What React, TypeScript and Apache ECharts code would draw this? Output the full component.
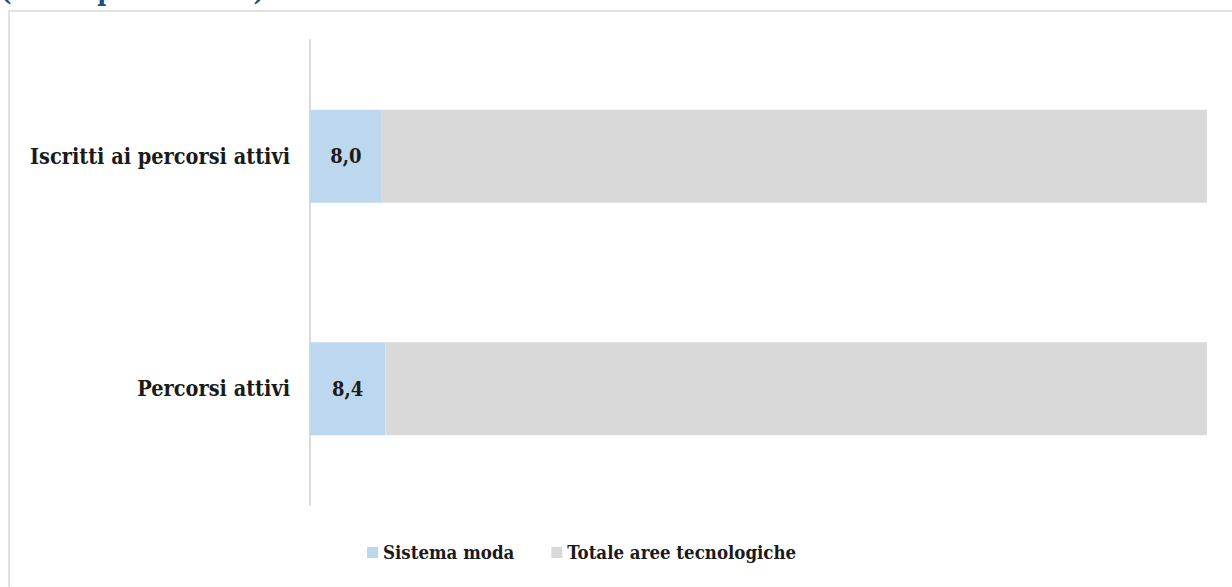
import React, { useEffect, useRef } from "react";
import * as echarts from "echarts";

const categories = ["Iscritti ai percorsi attivi", "Percorsi attivi"];
const sistemaModa = [8.0, 8.4];
const totaleAree = [92.0, 91.6];
const seriesNames = ["Sistema moda", "Totale aree tecnologiche"];
const titleText = "(valori percentuali)";

const FONT = "'DejaVu Serif Condensed', 'DejaVu Serif', serif";

export default function App() {
  const ref = useRef<HTMLDivElement>(null);
  useEffect(() => {
    if (!ref.current) return;
    const chart = echarts.init(ref.current, undefined, { renderer: "svg" });
    chart.setOption({
      animation: false,
      backgroundColor: "#ffffff",
      textStyle: { fontFamily: FONT },
      graphic: [
        {
          type: "rect",
          shape: { x: 9, y: 11, width: 1400, height: 800 },
          style: { fill: "none", stroke: "#d9d9d9", lineWidth: 1.5 },
          silent: true,
        },
        {
          type: "text",
          x: 0,
          y: 4,
          style: {
            text: titleText,
            fill: "#1f4e79",
            font: `bold 27px ${FONT}`,
            verticalAlign: "bottom",
          },
        },
      ],
      grid: { left: 310, right: 25, top: 40, bottom: 82, containLabel: false },
      legend: {
        left: 362,
        top: 538,
        itemWidth: 11,
        itemHeight: 11,
        itemGap: 37,
        icon: "rect",
        textStyle: {
          fontFamily: FONT,
          fontSize: 18.5,
          fontWeight: "bold",
          color: "#1a1a1a",
        },
        data: seriesNames,
      },
      xAxis: {
        type: "value",
        min: 0,
        max: 100,
        show: false,
      },
      yAxis: {
        type: "category",
        data: categories,
        inverse: true,
        axisLine: { show: true, lineStyle: { color: "#d9d9d9", width: 2 } },
        axisTick: { show: false },
        axisLabel: {
          fontFamily: FONT,
          fontSize: 21.5,
          fontWeight: "bold",
          color: "#1a1a1a",
          margin: 20,
        },
      },
      series: [
        {
          name: seriesNames[0],
          type: "bar",
          stack: "total",
          data: sistemaModa,
          barWidth: "40%",
          itemStyle: { color: "#bdd7ee" },
          label: {
            show: true,
            position: "inside",
            fontFamily: FONT,
            fontSize: 20,
            fontWeight: "bold",
            color: "#1a1a1a",
            formatter: (p: any) => p.value.toFixed(1).replace(".", ","),
          },
        },
        {
          name: seriesNames[1],
          type: "bar",
          stack: "total",
          data: totaleAree,
          barWidth: "40%",
          itemStyle: { color: "#d9d9d9" },
        },
      ],
    });
    return () => chart.dispose();
  }, []);
  return (
    <div
      ref={ref}
      style={{ position: "fixed", left: 0, top: 0, width: 1232, height: 587 }}
    />
  );
}
